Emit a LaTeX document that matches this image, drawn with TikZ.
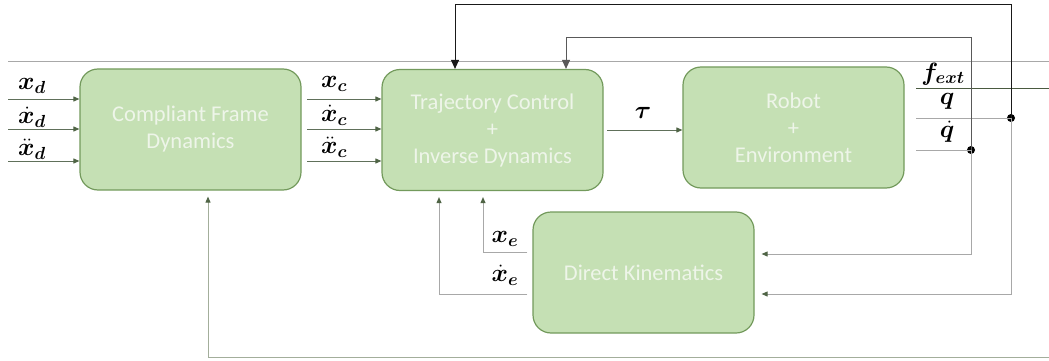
\RequirePackage{fix-cm}
\documentclass[tikz,border=0pt]{standalone}
\usepackage{fontspec}
\usepackage{amsmath,bm}
\setmainfont{Carlito}
\usetikzlibrary{arrows.meta}
\definecolor{boxfill}{HTML}{C5E0B4}
\definecolor{boxedge}{HTML}{739A5C}
\definecolor{boxtext}{HTML}{EEF5E9}
\definecolor{sigline}{HTML}{60705A}
\definecolor{arrowc}{HTML}{4F6445}
\definecolor{fbline}{HTML}{A8A8A8}
\definecolor{sepline}{HTML}{A8A8A8}
\definecolor{botline}{HTML}{A3AE9B}
\definecolor{fextline}{HTML}{4A5A40}
\begin{document}
\begin{tikzpicture}[x=1pt,y=-1pt,
  blk/.style={draw=boxedge, fill=boxfill, rounded corners=18pt, line width=1.2pt,
    minimum width=221pt, minimum height=121pt, inner sep=0pt, align=center,
    text=boxtext, font=\fontsize{22.5}{27}\selectfont},
  sig/.style={draw=sigline, line width=0.9pt, -{Triangle[length=6pt,width=5pt,color=arrowc]}},
  fbarrow/.style={draw=fbline, line width=0.9pt, -{Triangle[length=6pt,width=5pt,color=arrowc]}},
  fb/.style={draw=fbline, line width=0.9pt},
  topfb/.style={line width=1pt, -{Triangle[length=9pt,width=8pt]}},
  lab/.style={font=\fontsize{25}{28}\selectfont, inner sep=0pt},
  jdot/.style={circle, fill=black, inner sep=0pt, minimum size=8pt}]
\useasboundingbox (0,0) rectangle (1049,361);
% blocks
\node[blk] (cfd) at (190.5,129.5) {Compliant Frame\\Dynamics};
\node[blk] (tc) at (492.5,130) {Trajectory Control\\+\\Inverse Dynamics};
\node[blk] (re) at (793.5,127.5) {Robot\\+\\Environment};
\node[blk] (dk) at (643.5,272.5) {Direct Kinematics};
% separator line at top
\coordinate (tl) at (8,61);
\coordinate (tr) at (1049,61);
\draw[draw=sepline, line width=0.8pt] (tl) -- (tr);
% inputs to CFD
\coordinate (i1) at (8,99);
\coordinate (i2) at (8,129);
\coordinate (i3) at (8,161);
\draw[sig] (i1) -- (i1 -| cfd.west);
\draw[sig] (i2) -- (i2 -| cfd.west);
\draw[sig] (i3) -- (i3 -| cfd.west);
\node[lab] (lxd) at (32,86) {$\bm{x_d}$};
\node[lab] (lxdd) at (32,117) {$\bm{\dot{x}_d}$};
\node[lab] (lxddd) at (32,149) {$\bm{\ddot{x}_d}$};
% CFD to TC
\coordinate (o1) at (307,99);
\coordinate (o2) at (307,129);
\coordinate (o3) at (307,161);
\draw[sig] (o1) -- (o1 -| tc.west);
\draw[sig] (o2) -- (o2 -| tc.west);
\draw[sig] (o3) -- (o3 -| tc.west);
\node[lab] (lxc) at (334,84) {$\bm{x_c}$};
\node[lab] (lxcd) at (334,115) {$\bm{\dot{x}_c}$};
\node[lab] (lxcdd) at (334,147) {$\bm{\ddot{x}_c}$};
% tau
\coordinate (t0) at (607,130);
\draw[sig] (t0) -- (t0 -| re.west);
\node[lab] (ltau) at (643,113) {$\bm{\tau}$};
% robot outputs
\coordinate (f0) at (916,88);
\coordinate (f1) at (1049,88);
\draw[draw=fextline, line width=0.9pt] (f0) -- (f1);
\node[lab] (lf) at (943,74) {$\bm{f_{ext}}$};
\node[jdot] (jq) at (1011,118) {};
\node[jdot] (jqd) at (971,150) {};
\coordinate (q0) at (916,118);
\coordinate (qd0) at (916,150);
\draw[fb] (q0) -- (jq.center);
\draw[fb] (qd0) -- (jqd.center);
\node[lab] (lq) at (947,101) {$\bm{q}$};
\node[lab] (lqd) at (947,132) {$\bm{\dot{q}}$};
% top feedback loops
\coordinate (a1) at (455,5);
\coordinate (a2) at (566,38);
\draw[topfb, draw=black!90] (jq.center) |- (a1) -- (a1 |- tc.north);
\draw[topfb, draw=black!65] (jqd.center) |- (a2) -- (a2 |- tc.north);
% feedback to DK
\coordinate (b1) at (971,254);
\coordinate (b2) at (1011,294);
\draw[fbarrow, shorten >=7pt] (jqd.center) -- (b1) -- (b1 -| dk.east);
\draw[fbarrow, shorten >=7pt] (jq.center) -- (b2) -- (b2 -| dk.east);
% DK outputs to TC
\coordinate (c1) at (483,252);
\coordinate (c2) at (439,294);
\draw[fbarrow, shorten <=5pt, shorten >=6pt] (c1 -| dk.west) -- (c1) -- (c1 |- tc.south);
\draw[fbarrow, shorten <=5pt, shorten >=6pt] (c2 -| dk.west) -- (c2) -- (c2 |- tc.south);
\node[lab] (lxe) at (505,239) {$\bm{x_e}$};
\node[lab] (lxed) at (505,275) {$\bm{\dot{x}_e}$};
% bottom feedback to CFD
\coordinate (d1) at (208,357);
\coordinate (d2) at (1049,357);
\draw[fbarrow, draw=botline, shorten >=6pt] (d2) -- (d1) -- (d1 |- cfd.south);
\end{tikzpicture}
\end{document}
